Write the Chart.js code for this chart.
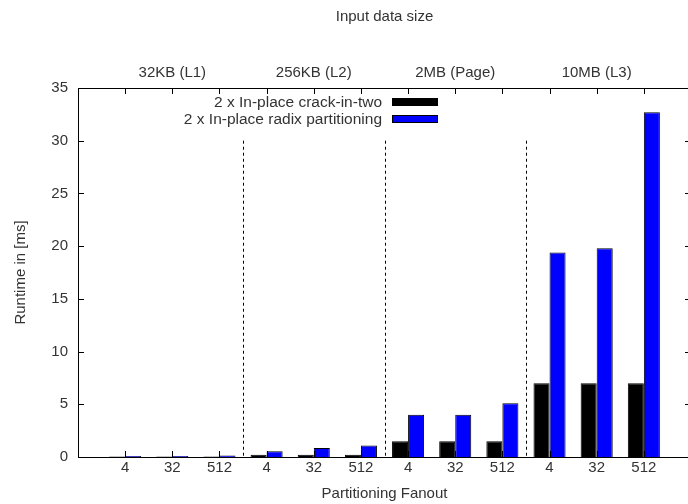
<!DOCTYPE html>
<html>
<head>
<meta charset="utf-8">
<title>Runtime by partitioning fanout</title>
<script src="https://cdn.jsdelivr.net/npm/chart.js@4/dist/chart.umd.min.js"></script>
<style>
  html, body { margin: 0; padding: 0; background: #ffffff; overflow: hidden; }
  /* the plot's right border runs just past the page edge, so clip it */
  #chartWrap { position: relative; width: 688px; height: 504px; overflow: hidden; }
  #appBarChart { display: block; }
</style>
</head>
<body>
<div id="chartWrap">
  <canvas id="appBarChart" width="700" height="504"></canvas>
</div>
<script>
/*********************************************************************
 *                          CHART DATA
 *********************************************************************/

const fanoutLabels = ["4", "32", "512", "4", "32", "512", "4", "32", "512", "4", "32", "512"];
const dataSizeLabels = ["32KB (L1)", "256KB (L2)", "2MB (Page)", "10MB (L3)"];
const seriesNames = ["2 x In-place crack-in-two", "2 x In-place radix partitioning"];

// runtime in ms
const crackInTwo = [0.05, 0.05, 0.05, 0.22, 0.22, 0.22, 1.5, 1.5, 1.5, 7.0, 7.0, 7.0];
const radixPartitioning = [0.1, 0.1, 0.15, 0.55, 0.85, 1.1, 4.0, 4.0, 5.1, 19.4, 19.8, 32.7];

/*********************************************************************
 *                          SETTINGS
 *********************************************************************/

const textColor = "#333333";
const fontFamily = "'Liberation Sans', Arial, sans-serif";
const baseFont = { family: fontFamily, size: 15 };

// gnuplot x range runs from -1 to 12, so pad the category axis with an empty slot each side
const paddedLabels = ["", ...fanoutLabels, ""];
const pad = (arr) => [null, ...arr, null];

/*********************************************************************
 *                  PLUGIN - frame, inward ticks, separators, key
 *********************************************************************/

const gnuplotFrame = {
  id: "gnuplotFrame",
  afterDatasetsDraw(chart) {
    const { ctx, chartArea: area, scales } = chart;
    const x = scales.x;
    const y = scales.y;
    const tick = 6;

    ctx.save();
    ctx.strokeStyle = "#000";
    ctx.lineWidth = 1;

    // border
    ctx.strokeRect(area.left + 0.5, area.top + 0.5, area.right - area.left, area.bottom - area.top);

    ctx.beginPath();
    // y ticks, both sides
    for (let v = 0; v <= 35; v += 5) {
      const py = Math.round(y.getPixelForValue(v)) + 0.5;
      ctx.moveTo(area.left, py);
      ctx.lineTo(area.left + tick, py);
      ctx.moveTo(area.right, py);
      ctx.lineTo(area.right - tick, py);
    }
    // x ticks at bottom and mirrored at top
    for (let i = 1; i <= fanoutLabels.length; i++) {
      const px = Math.round(x.getPixelForTick(i)) + 0.5;
      ctx.moveTo(px, area.bottom);
      ctx.lineTo(px, area.bottom - tick);
      ctx.moveTo(px, area.top);
      ctx.lineTo(px, area.top + tick);
    }
    ctx.stroke();

    // dashed separators between input sizes
    ctx.beginPath();
    ctx.setLineDash([3, 3]);
    for (let g = 1; g < dataSizeLabels.length; g++) {
      const i = g * 3;
      const px = Math.round((x.getPixelForTick(i) + x.getPixelForTick(i + 1)) / 2) + 0.5;
      ctx.moveTo(px, y.getPixelForValue(30));
      ctx.lineTo(px, area.bottom);
    }
    ctx.stroke();
    ctx.setLineDash([]);

    // key
    const keyRight = 382;
    const swatchX = 392;
    const swatchW = 45;
    const swatchH = 7;
    const keyTop = 101.5;
    const keyStep = 17;
    ctx.font = "15.5px " + fontFamily;
    ctx.textAlign = "right";
    ctx.textBaseline = "middle";
    chart.data.datasets.forEach((ds, k) => {
      const cy = keyTop + k * keyStep;
      ctx.fillStyle = textColor;
      ctx.fillText(ds.label, keyRight, cy + 1);
      ctx.fillStyle = ds.backgroundColor;
      ctx.fillRect(swatchX, Math.round(cy - swatchH / 2), swatchW, swatchH);
      ctx.strokeRect(swatchX + 0.5, Math.round(cy - swatchH / 2) + 0.5, swatchW, swatchH);
    });
    ctx.restore();
  },
};

/*********************************************************************
 *                          CONFIG
 *********************************************************************/

function getBarChartData() {
  return {
    labels: paddedLabels,
    datasets: [
      {
        label: seriesNames[0],
        data: pad(crackInTwo),
        backgroundColor: "#000000",
        borderColor: "#000000",
        borderWidth: 1,
      },
      {
        label: seriesNames[1],
        data: pad(radixPartitioning),
        backgroundColor: "#0000ff",
        borderColor: "#000000",
        borderWidth: 1,
      },
    ],
  };
}

function getBarChartOptions() {
  return {
    responsive: false,
    animation: false,
    layout: { padding: { left: 0, right: 9, top: 0, bottom: 0 } },
    datasets: { bar: { barPercentage: 1.0, categoryPercentage: 0.68 } },
    plugins: {
      legend: { display: false },
      tooltip: { enabled: false },
    },
    scales: {
      x: {
        type: "category",
        position: "bottom",
        offset: false,
        grid: { display: false, drawTicks: false },
        border: { display: false },
        ticks: { font: baseFont, color: textColor, padding: 2, autoSkip: false, maxRotation: 0 },
        title: {
          display: true,
          text: "Partitioning Fanout",
          font: baseFont,
          color: textColor,
          padding: { top: 0, bottom: 1 },
        },
        afterFit: (scale) => { scale.height = 47; },
      },
      x2: {
        type: "category",
        position: "top",
        labels: paddedLabels,
        offset: false,
        grid: { display: false, drawTicks: false },
        border: { display: false },
        ticks: {
          font: baseFont,
          color: textColor,
          padding: 6,
          autoSkip: false,
          maxRotation: 0,
          callback: (val, i) => (i % 3 === 2 ? dataSizeLabels[(i - 2) / 3] : ""),
        },
        title: {
          display: true,
          text: "Input data size",
          font: baseFont,
          color: textColor,
          padding: { top: 8, bottom: 0 },
        },
        afterFit: (scale) => { scale.height = 88; },
      },
      y: {
        min: 0,
        max: 35,
        grid: { display: false, drawTicks: false },
        border: { display: false },
        ticks: { stepSize: 5, font: baseFont, color: textColor, padding: 10 },
        title: {
          display: true,
          text: "Runtime in [ms]",
          font: baseFont,
          color: textColor,
          padding: { top: 12, bottom: 0 },
        },
        afterFit: (scale) => { scale.width = 78; },
      },
    },
  };
}

/*********************************************************************
 *                          RENDER
 *********************************************************************/

function getBarChart() {
  const barChartElement = document.getElementById("appBarChart");
  return new Chart(barChartElement, {
    type: "bar",
    data: getBarChartData(),
    options: getBarChartOptions(),
    plugins: [gnuplotFrame],
  });
}

getBarChart();
</script>
</body>
</html>
